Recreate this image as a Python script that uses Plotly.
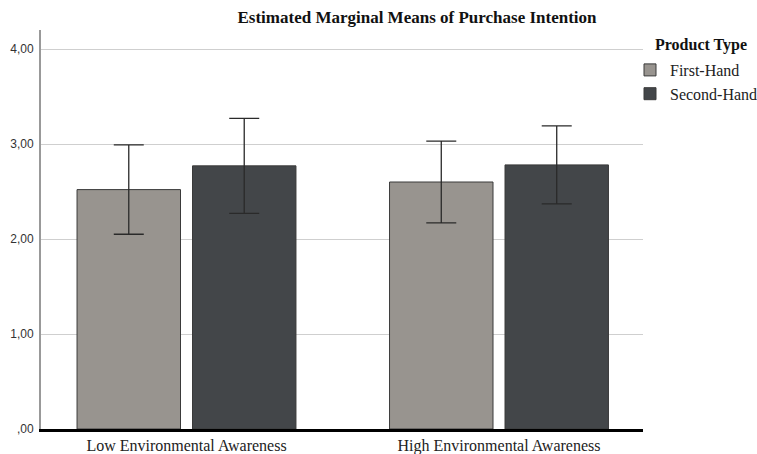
import plotly.graph_objects as go

categories = ["Low Environmental Awareness", "High Environmental Awareness"]
series_names = ["First-Hand", "Second-Hand"]
first_hand = [2.52, 2.60]
first_hand_err = [0.47, 0.43]
second_hand = [2.77, 2.78]
second_hand_err = [0.50, 0.41]
y_tick_vals = [0, 1, 2, 3, 4]
y_tick_text = [",00", "1,00", "2,00", "3,00", "4,00"]
legend_title = "Product Type"
chart_title = "Estimated Marginal Means of Purchase Intention"

colors = ["#98948f", "#434649"]
serif = "Liberation Serif, Times New Roman, serif"
sans = "Liberation Sans, Arial, sans-serif"

fig = go.Figure()
for name, vals, errs, col in [
    (series_names[0], first_hand, first_hand_err, colors[0]),
    (series_names[1], second_hand, second_hand_err, colors[1]),
]:
    fig.add_trace(go.Bar(
        x=categories, y=vals, name=name,
        marker=dict(color=col, line=dict(color="#3a3a3a", width=1)),
        error_y=dict(type="data", array=errs, visible=True,
                     color="#2a2a2a", thickness=1.3, width=15),
    ))

fig.update_layout(
    width=757, height=454,
    margin=dict(l=41, r=114, t=30, b=25, autoexpand=False),
    paper_bgcolor="white", plot_bgcolor="white",
    barmode="group", bargap=0.261, bargroupgap=0.104,
    title=dict(text="<b>" + chart_title + "</b>",
               x=417 / 757, xanchor="center", xref="container",
               y=1 - 17 / 454, yanchor="middle", yref="container",
               font=dict(family=serif, size=17, color="#111")),
    showlegend=True,
    legend=dict(x=630 / 757, xanchor="left", xref="container",
                y=1 - 53 / 454, yanchor="top", yref="container",
                font=dict(family=serif, size=16, color="#222"),
                bgcolor="rgba(0,0,0,0)", itemwidth=30, tracegroupgap=0),
    annotations=[dict(text="<b>" + legend_title + "</b>", xref="paper", yref="paper",
                      x=(653 - 41) / 602, y=(429 - 45) / 399, xanchor="left",
                      yanchor="middle", showarrow=False,
                      font=dict(family=serif, size=16, color="#111"))],
)
fig.update_xaxes(
    type="category", range=[-0.4656, 1.4608], automargin=False,
    showline=True, linecolor="#000", linewidth=3,
    ticks="", showgrid=False,
    tickfont=dict(family=serif, size=16, color="#222"),
)
fig.update_yaxes(
    range=[0, 4.2], tickvals=y_tick_vals, ticktext=y_tick_text, automargin=False,
    showline=True, linecolor="#999", linewidth=2,
    showgrid=True, gridcolor="#cfcfcf", gridwidth=1, zeroline=False,
    ticks="", ticklabelstandoff=3,
    tickfont=dict(family=sans, size=12, color="#333"),
)

fig.write_html("out.html", config={"displayModeBar": False},
               post_script="document.body.style.margin='0';document.body.style.padding='0';")
